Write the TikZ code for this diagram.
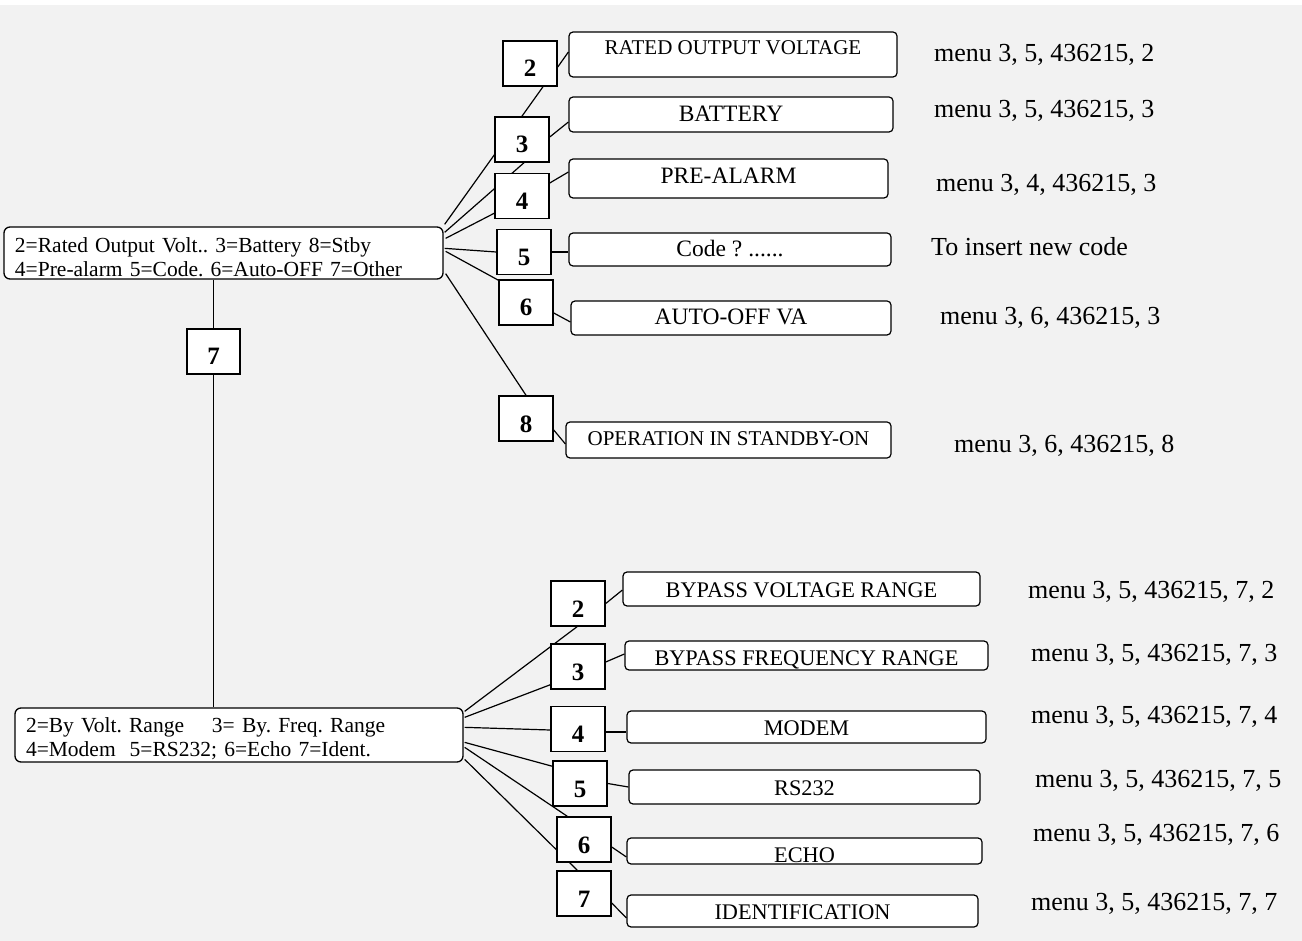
\documentclass[tikz,border=0pt]{standalone}
\usepackage{fontspec}
\setmainfont{Liberation Serif}
\usetikzlibrary{calc}
\pgfdeclarelayer{back}
\pgfdeclarelayer{wires}
\pgfsetlayers{back,wires,main}
\begin{document}
\frenchspacing
\begin{tikzpicture}[x=1pt,y=-1pt,
  wire/.style={line width=1.2pt, draw=black},
  numbox/.style={draw, line width=1.5pt, fill=white, minimum width=54, minimum height=45,
    inner sep=0, font=\fontsize{25}{25}\selectfont\bfseries, text height=27, text depth=0},
  rbox/.style={draw, line width=1.2pt, fill=white, rounded corners=4pt, inner sep=0},
  rb/.style n args={4}{minimum width=#1, minimum height=#2, text height=#3, text depth=#4},
  fa/.style={font=\fontsize{21}{24}\selectfont},
  fb/.style={font=\fontsize{23.5}{26}\selectfont},
  fc/.style={font=\fontsize{22.3}{26}\selectfont},
  mainbox/.style={draw, line width=1.3pt, fill=white, rounded corners=6pt, inner xsep=11,
    inner ysep=0, align=left, font=\fontsize{21.5}{24}\selectfont\frenchspacing},
  menu/.style={anchor=base west, inner sep=0, font=\fontsize{26}{30}\selectfont}]
\useasboundingbox (0,0) rectangle (1302,941);
\begin{pgfonlayer}{back}
  \fill[white] (0,0) rectangle (1302,941);
  \fill[black!5] (0,5) rectangle (1302,941);
\end{pgfonlayer}

% main boxes
\node[mainbox, text width=417, minimum height=52] (m1) at (223.5,253)
  {\rule{0pt}{23pt}2=Rated Output Volt.. 3=Battery 8=Stby\\4=Pre-alarm 5=Code. 6=Auto-OFF 7=Other};
\node[mainbox, text width=426, minimum height=54] (m2) at (239,735)
  {\rule{0pt}{23pt}2=By Volt. Range\hspace{1.3em}3= By. Freq. Range\\4=Modem\hspace{0.65em}5=RS232; 6=Echo 7=Ident.};

% number boxes top
\node[numbox] (t2) at (530,63.5) {2};
\node[numbox] (t3) at (522,139.5) {3};
\node[numbox] (t4) at (522,196) {4};
\node[numbox] (t5) at (524,252) {5};
\node[numbox] (t6) at (526,302.5) {6};
\node[numbox] (t8) at (526,418.5) {8};
\node[numbox, minimum width=53] (t7) at (213.5,351.5) {7};

% number boxes bottom
\node[numbox] (b2) at (578,603.5) {2};
\node[numbox] (b3) at (578,666.5) {3};
\node[numbox] (b4) at (578,729) {4};
\node[numbox] (b5) at (580,783.5) {5};
\node[numbox] (b6) at (584,839.5) {6};
\node[numbox] (b7) at (584,893.5) {7};

% right boxes top
\node[rbox, fa, rb={328}{45}{11}{10}] (r1) at (733,54.5) {RATED OUTPUT VOLTAGE};
\node[rbox, fb, rb={324}{35}{20}{5}] (r2) at (731,114.5) {BATTERY};
\node[rbox, fb, rb={319}{39}{16}{5}] (r3) at (728.5,178.5) {PRE-ALARM};
\node[rbox, fb, rb={322}{33}{20}{5}] (r4) at (730,249.5) {Code ? ......};
\node[rbox, fb, rb={320}{34}{19}{5}] (r5) at (731,318) {AUTO-OFF VA};
\node[rbox, fa, rb={325}{36}{15}{5}] (r6) at (728.5,440) {OPERATION IN STANDBY-ON};

% right boxes bottom
\node[rbox, fc, rb={357}{34}{21}{5}] (q1) at (801.5,589) {BYPASS VOLTAGE RANGE};
\node[rbox, fc, rb={363}{29}{24}{5}] (q2) at (806.5,655.5) {BYPASS FREQUENCY RANGE};
\node[rbox, fc, rb={359}{32}{21}{5}] (q3) at (806.5,727) {MODEM};
\node[rbox, fc, rb={351}{34}{21}{5}] (q4) at (804.5,787) {RS232};
\node[rbox, fc, rb={355}{26}{22}{0}] (q5) at (804.5,851) {ECHO};
\node[rbox, fc, rb={351}{32}{21}{5}] (q6) at (802.5,911) {IDENTIFICATION};

% menu texts
\node[menu] (n1) at (934,62) {menu 3, 5, 436215, 2};
\node[menu] (n2) at (934,118) {menu 3, 5, 436215, 3};
\node[menu] (n3) at (936,192) {menu 3, 4, 436215, 3};
\node[menu] (n4) at (931,256) {To insert new code};
\node[menu] (n5) at (940,325) {menu 3, 6, 436215, 3};
\node[menu] (n6) at (954,453) {menu 3, 6, 436215, 8};
\node[menu] (p1) at (1028,598) {menu 3, 5, 436215, 7, 2};
\node[menu] (p2) at (1031,661) {menu 3, 5, 436215, 7, 3};
\node[menu] (p3) at (1031,723) {menu 3, 5, 436215, 7, 4};
\node[menu] (p4) at (1035,787) {menu 3, 5, 436215, 7, 5};
\node[menu] (p5) at (1033,841) {menu 3, 5, 436215, 7, 6};
\node[menu] (p6) at (1031,910) {menu 3, 5, 436215, 7, 7};

\begin{pgfonlayer}{wires}
  % vertical link
  \draw[wire] (m1.south -| t7.center) -- (m2.north -| t7.center);
  % top fan
  \draw[wire] ($(m1.north east)+(1,-2)$) -- ($(t2.south)+(13,0)$);
  \draw[wire] ($(m1.north east)+(1,6)$) -- ($(t3.south)+(2,0)$);
  \draw[wire] ($(m1.north east)+(2,12)$) -- ($(t4.south west)+(0,-6)$);
  \draw[wire] ($(m1.north east)+(1,22)$) -- (t5.west);
  \draw[wire] ($(m1.north east)+(2,25)$) -- ($(t6.north west)+(2,2)$);
  \draw[wire] ($(m1.south east)+(2,-6)$) -- (t8.north);
  % top short links
  \draw[wire] ($(t2.east)+(0,3.5)$) -- ($(r1.west)+(0,-2.5)$);
  \draw[wire] ($(t3.east)+(0,-2.5)$) -- ($(r2.west)+(0,7.5)$);
  \draw[wire] ($(t4.east)+(0,-13)$) -- ($(r3.west)+(0,-6.5)$);
  \draw[wire] (t5.east) -- ($(r4.west)+(0,2.5)$);
  \draw[wire] ($(t6.east)+(0,10.5)$) -- ($(r5.west)+(0,4)$);
  \draw[wire] ($(t8.east)+(0,11.5)$) -- ($(r6.west)+(0,4)$);
  % bottom fan
  \draw[wire] ($(m2.north east)+(1,4)$) -- ($(b2.south)+(-1,0)$);
  \draw[wire] ($(m2.north east)+(1,10)$) -- ($(b3.south west)+(0,-5)$);
  \draw[wire] ($(m2.north east)+(1,20)$) -- ($(b4.west)+(0,1)$);
  \draw[wire] ($(m2.north east)+(1,35)$) -- ($(b5.north west)+(0,6)$);
  \draw[wire] ($(m2.north east)+(1,40)$) -- ($(b6.north west)+(11,0)$);
  \draw[wire] ($(m2.north east)+(1,52)$) -- ($(b7.north west)+(21,0)$);
  % bottom short links
  \draw[wire] (b2.east) -- ($(q1.west)+(0,1)$);
  \draw[wire] ($(b3.east)+(0,-4.5)$) -- ($(q2.west)+(0,-1.5)$);
  \draw[wire] ($(b4.east)+(0,3)$) -- ($(q3.west)+(0,5)$);
  \draw[wire] (b5.east) -- (q4.west);
  \draw[wire] ($(b6.east)+(0,7.5)$) -- ($(q5.west)+(0,6)$);
  \draw[wire] ($(b7.east)+(0,9.5)$) -- ($(q6.west)+(0,7)$);
\end{pgfonlayer}
\end{tikzpicture}
\end{document}
